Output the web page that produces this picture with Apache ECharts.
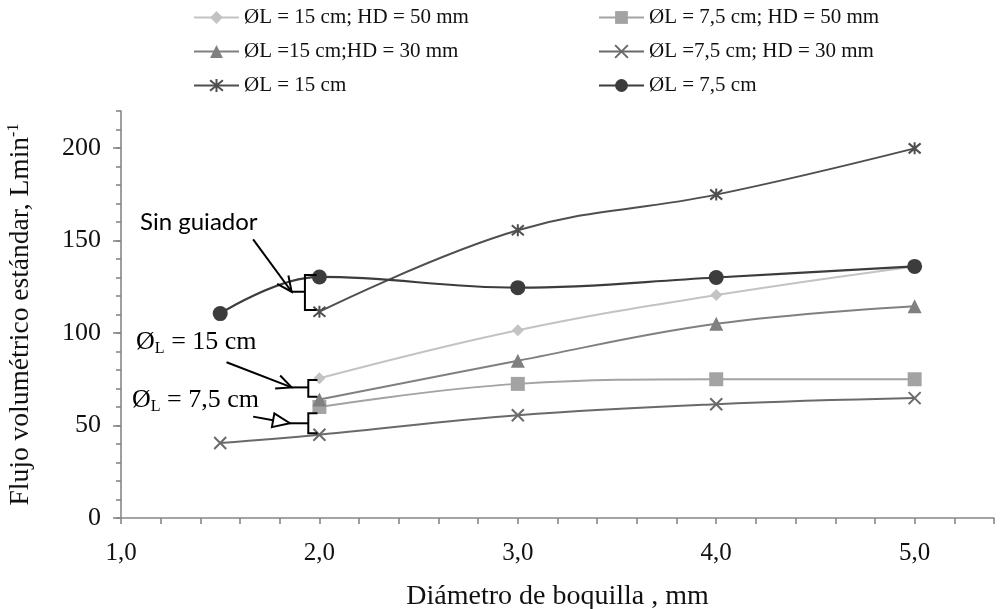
<!DOCTYPE html>
<html><head><meta charset="utf-8">
<script src="https://cdn.jsdelivr.net/npm/echarts@6/dist/echarts.min.js"></script>
<style>html,body{margin:0;padding:0;background:#fff}#c{width:1004px;height:609px}</style>
</head><body><div id="c"></div>
<script>
// ---- data ----
const seriesNames = ['ØL = 15 cm; HD = 50 mm', 'ØL = 7,5 cm; HD = 50 mm', 'ØL =15 cm;HD = 30 mm', 'ØL =7,5 cm; HD = 30 mm', 'ØL = 15 cm', 'ØL = 7,5 cm'];
const xFrom2 = [2.0, 3.0, 4.0, 5.0];
const xFrom15 = [1.5, 2.0, 3.0, 4.0, 5.0];
const d15HD50 = [75.5, 101.5, 120.5, 136];
const d75HD50 = [60, 72.5, 75, 75];
const d15HD30 = [64, 85, 105, 114.5];
const d75HD30 = [40.5, 45, 55.5, 61.5, 64.8];
const d15 = [111.5, 155.5, 174.8, 199.8];
const d75 = [110.5, 130.3, 124.5, 130, 136];
const yTickLabels = [0, 50, 100, 150, 200];
const xTickLabels = [1, 2, 3, 4, 5];
const annotTexts = ['Sin guiador', 'Ø_L = 15 cm', 'Ø_L = 7,5 cm'];

const SERIF = "'Liberation Serif','Times New Roman',serif";
const pair = (xs, ys) => xs.map((x, i) => [x, ys[i]]);
const X_PATH = 'path://M0,0L10,10M0,10L10,0';
const STAR_PATH = 'path://M0,0L10,10M0,10L10,0M5,-1L5,11';

function mk(name, data, color, symbol, size, opts) {
  return Object.assign({
    name, type: 'line', data, smooth: 0.4, symbol, symbolSize: size,
    lineStyle: { color, width: 2 },
    itemStyle: { color, borderColor: color, borderWidth: 0 },
    z: 3
  }, opts || {});
}
const series = [
  mk(seriesNames[0], pair(xFrom2, d15HD50), '#C3C3C3', 'diamond', 12),
  mk(seriesNames[1], pair(xFrom2, d75HD50), '#A3A3A3', 'rect', 14),
  mk(seriesNames[2], pair(xFrom2, d15HD30), '#808080', 'triangle', 14),
  mk(seriesNames[3], pair(xFrom15, d75HD30), '#6A6A6A', X_PATH, 12,
     { itemStyle: { color: 'rgba(0,0,0,0)', borderColor: '#6A6A6A', borderWidth: 2 } }),
  mk(seriesNames[4], pair(xFrom2, d15), '#4F4F4F', STAR_PATH, 12,
     { itemStyle: { color: 'rgba(0,0,0,0)', borderColor: '#4F4F4F', borderWidth: 2 } }),
  mk(seriesNames[5], pair(xFrom15, d75), '#3C3C3C', 'circle', 15, { lineStyle: { color: '#3C3C3C', width: 2.2 } })
];

const chart = echarts.init(document.getElementById('c'), null, { renderer: 'canvas' });
const legendText = { fontFamily: SERIF, fontSize: 21, color: '#111' };
chart.setOption({
  animation: false,
  backgroundColor: '#fff',
  grid: { left: 121, right: 10, top: 111, bottom: 91, containLabel: false, outerBoundsMode: 'none' },
  legend: [
    { left: 193, top: 7, padding: 0, orient: 'vertical', itemWidth: 45, itemHeight: 16, itemGap: 13,
      data: [seriesNames[0], seriesNames[2], seriesNames[4]], textStyle: legendText, selectedMode: false },
    { left: 598, top: 7, padding: 0, orient: 'vertical', itemWidth: 45, itemHeight: 16, itemGap: 13,
      data: [seriesNames[1], seriesNames[3], seriesNames[5]], textStyle: legendText, selectedMode: false }
  ],
  xAxis: {
    type: 'value', min: 1, max: 5.4, interval: 0.2,
    name: 'Diámetro de boquilla , mm', nameLocation: 'middle', nameGap: 65,
    nameTextStyle: { fontFamily: SERIF, fontSize: 28, color: '#111' },
    axisLine: { lineStyle: { color: '#878787', width: 1.6 } },
    axisTick: { show: true, length: 6, lineStyle: { color: '#878787', width: 1.6 } },
    splitLine: { show: false },
    axisLabel: {
      margin: 23, fontFamily: SERIF, fontSize: 25, color: '#111',
      formatter: v => {
        const r = Math.round(v);
        return (Math.abs(v - r) < 1e-6 && xTickLabels.indexOf(r) >= 0) ? r.toFixed(1).replace('.', ',') : '';
      }
    }
  },
  yAxis: [
    {
      type: 'value', min: 0, max: 220, interval: 10, position: 'left',
      name: '{a|Flujo volumétrico estándar, Lmin}{s|-1}', nameLocation: 'middle', nameGap: 85,
      nameTextStyle: {
        rich: {
          a: { fontFamily: SERIF, fontSize: 27.5, color: '#111', lineHeight: 30 },
          s: { fontFamily: SERIF, fontSize: 16, color: '#111', lineHeight: 16, verticalAlign: 'top' }
        }
      },
      axisLine: { show: true, lineStyle: { color: '#878787', width: 1.6 } },
      axisTick: { show: true, length: 5, lineStyle: { color: '#878787', width: 1.6 } },
      splitLine: { show: false },
      axisLabel: {
        margin: 20, fontFamily: SERIF, fontSize: 26, color: '#111',
        formatter: v => (yTickLabels.indexOf(Math.round(v)) >= 0 && Math.abs(v - Math.round(v)) < 1e-6) ? String(Math.round(v)) : ''
      }
    },
    {
      type: 'value', min: 0, max: 220, position: 'left',
      axisLine: { show: false },
      axisTick: { show: true, length: 8, customValues: yTickLabels, lineStyle: { color: '#878787', width: 1.6 } },
      axisLabel: { show: false },
      splitLine: { show: false }
    }
  ],
  series
});

// ---- annotations (in data coordinates) ----
const brackets = [
  { from: [1.666, 150.6], leftX: 1.860, vx: 1.927, tipX: 1.986, top: 131.4, mid: 122.3, bottom: 112.4, hollow: false },
  { from: [1.532, 84.2], leftX: 1.860, vx: 1.944, tipX: 1.990, top: 74.6, mid: 70.6, bottom: 65.6, hollow: false },
  { from: [1.666, 54.8], leftX: 1.851, vx: 1.944, tipX: 1.990, top: 56.6, mid: 51.2, bottom: 45.8, hollow: true }
];
const labels = [
  { at: [1.096, 160], sans: true },
  { at: [1.076, 95.3] },
  { at: [1.055, 63.8] }
];
const P = p => chart.convertToPixel({ gridIndex: 0 }, p);
const g = [];
const ls = { stroke: '#000', lineWidth: 2, fill: null };
brackets.forEach(b => {
  const a0 = P(b.from), a1 = P([b.leftX, b.mid]);
  const vx = P([b.vx, b.mid])[0], tx = P([b.tipX, b.mid])[0];
  const yt = P([b.vx, b.top])[1], yb = P([b.vx, b.bottom])[1];
  const dx = a1[0] - a0[0], dy = a1[1] - a0[1], L = Math.hypot(dx, dy);
  const ux = dx / L, uy = dy / L;
  const hl = b.hollow ? 17 : 15, hw = 7;
  const base = [a1[0] - ux * hl, a1[1] - uy * hl];
  const h1 = [base[0] - uy * hw, base[1] + ux * hw], h2 = [base[0] + uy * hw, base[1] - ux * hw];
  if (b.hollow) {
    g.push({ type: 'polyline', shape: { points: [a0, base] }, style: ls, z: 10 });
    g.push({ type: 'polygon', shape: { points: [h1, a1, h2] }, style: { stroke: '#000', lineWidth: 2, fill: '#fff' }, z: 10 });
  } else {
    g.push({ type: 'polyline', shape: { points: [a0, a1] }, style: ls, z: 10 });
    g.push({ type: 'polyline', shape: { points: [h1, a1, h2] }, style: ls, z: 10 });
  }
  g.push({ type: 'polyline', shape: { points: [a1, [vx, a1[1]]] }, style: ls, z: 10 });
  g.push({ type: 'polyline', shape: { points: [[tx, yt], [vx, yt], [vx, yb], [tx, yb]] }, style: ls, z: 10 });
});
labels.forEach((l, i) => {
  const p = P(l.at);
  const t = annotTexts[i];
  let text, rich;
  if (l.sans) {
    text = '{s|' + t + '}';
    rich = { s: { fontFamily: "Lato,'Open Sans',sans-serif", fontSize: 24, color: '#111', lineHeight: 28 } };
  } else {
    const parts = t.split('_');
    const sub = parts[1].charAt(0), rest = parts[1].slice(1);
    text = '{a|' + parts[0] + '}{b|' + sub + '}{a|' + rest + '}';
    rich = {
      a: { fontFamily: SERIF, fontSize: 26, color: '#111', lineHeight: 30 },
      b: { fontFamily: SERIF, fontSize: 16, color: '#111', lineHeight: 16, verticalAlign: 'bottom' }
    };
  }
  g.push({ type: 'text', x: p[0], y: p[1], z: 10,
    style: { text, rich, align: 'left', verticalAlign: 'middle' } });
});
chart.setOption({ graphic: g });
</script></body></html>
